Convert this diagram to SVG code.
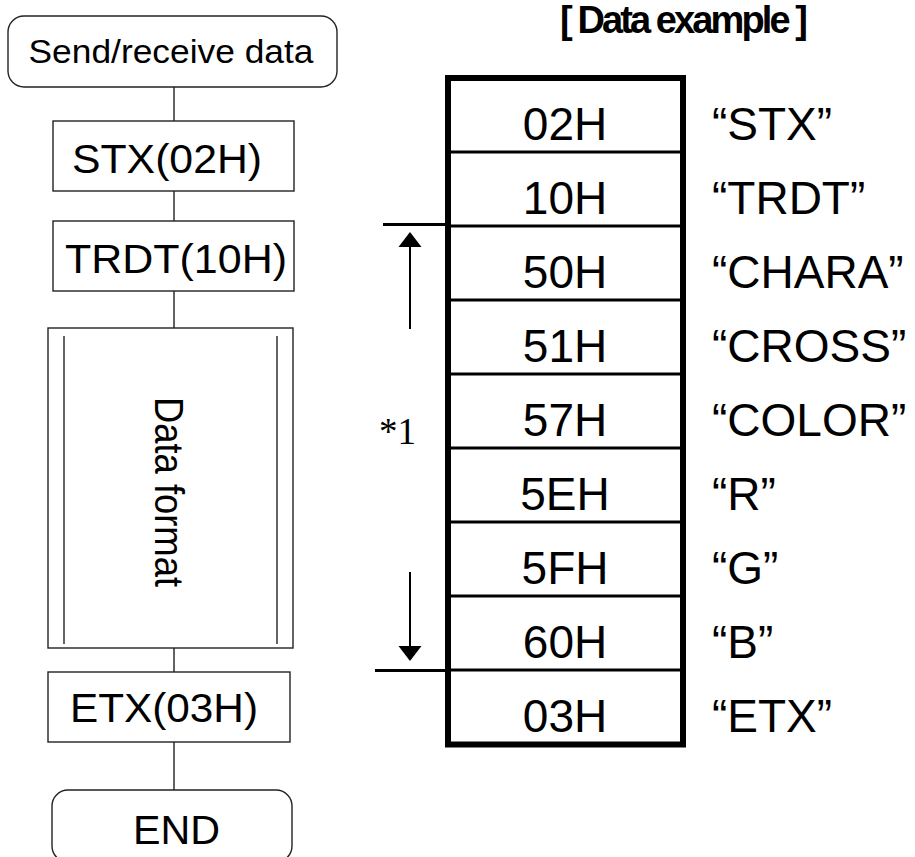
<svg xmlns="http://www.w3.org/2000/svg" width="915" height="857" viewBox="0 0 915 857">
<style>
.box{fill:#fff;stroke:#222;stroke-width:1.4}
.t{font-family:"Liberation Sans",Arial,sans-serif;fill:#000}
.flow{font-size:40px;text-anchor:middle}
.hex{font-size:46px;text-anchor:middle}
.lab{font-size:46px}
.conn{stroke:#222;stroke-width:1.4;fill:none}
.thick{stroke:#000;stroke-width:6;fill:none}
.div{stroke:#000;stroke-width:3}
.br{stroke:#000;stroke-width:3}
.ar{stroke:#000;stroke-width:2}
</style>
<rect width="915" height="857" fill="#fff"/>

<g id="connectors">
<line class="conn" x1="174" y1="87" x2="174" y2="121"/>
<line class="conn" x1="174" y1="191" x2="174" y2="221"/>
<line class="conn" x1="174" y1="291" x2="174" y2="328"/>
<line class="conn" x1="174" y1="648" x2="174" y2="672"/>
<line class="conn" x1="174" y1="742" x2="174" y2="790"/>
</g>

<g id="start">
<rect class="box" x="8" y="16" width="329" height="71" rx="16"/>
<text class="t" x="171" y="63" font-size="33" text-anchor="middle" textLength="285" lengthAdjust="spacingAndGlyphs">Send/receive data</text>
</g>
<g id="stx">
<rect class="box" x="53" y="121" width="241" height="70"/>
<text class="t flow" x="167" y="173" textLength="190" lengthAdjust="spacingAndGlyphs">STX(02H)</text>
</g>
<g id="trdt">
<rect class="box" x="53" y="221" width="241" height="70"/>
<text class="t flow" x="176" y="273" textLength="222" lengthAdjust="spacingAndGlyphs">TRDT(10H)</text>
</g>
<g id="dataformat">
<rect class="box" x="48" y="328" width="245" height="320"/>
<line class="conn" x1="64" y1="336" x2="64" y2="644"/>
<line class="conn" x1="277" y1="336" x2="277" y2="644"/>
<text class="t flow" transform="translate(155,492) rotate(90)" x="0" y="0" textLength="190" lengthAdjust="spacingAndGlyphs">Data format</text>
</g>
<g id="etx">
<rect class="box" x="48" y="672" width="242" height="70"/>
<text class="t flow" x="164" y="722" textLength="188" lengthAdjust="spacingAndGlyphs">ETX(03H)</text>
</g>
<g id="end">
<rect class="box" x="52" y="790" width="240" height="72" rx="16"/>
<text class="t flow" x="176.5" y="844" textLength="87" lengthAdjust="spacingAndGlyphs">END</text>
</g>

<g id="title">
<text class="t" x="684" y="33" font-size="38" font-weight="bold" text-anchor="middle" textLength="248" lengthAdjust="spacing">[ Data example ]</text>
</g>

<g id="table">
<line class="div" x1="448" y1="152" x2="683" y2="152"/>
<line class="div" x1="448" y1="226" x2="683" y2="226"/>
<line class="div" x1="448" y1="300" x2="683" y2="300"/>
<line class="div" x1="448" y1="374" x2="683" y2="374"/>
<line class="div" x1="448" y1="448" x2="683" y2="448"/>
<line class="div" x1="448" y1="522" x2="683" y2="522"/>
<line class="div" x1="448" y1="596" x2="683" y2="596"/>
<line class="div" x1="448" y1="670" x2="683" y2="670"/>
<rect class="thick" x="448" y="78" width="235" height="666.5"/>
<text class="t hex" x="565" y="140">02H</text>
<text class="t hex" x="565" y="213.5">10H</text>
<text class="t hex" x="565" y="287.5">50H</text>
<text class="t hex" x="565" y="361.5">51H</text>
<text class="t hex" x="565" y="435.5">57H</text>
<text class="t hex" x="565" y="509.5">5EH</text>
<text class="t hex" x="565" y="583.5">5FH</text>
<text class="t hex" x="565" y="657.5">60H</text>
<text class="t hex" x="565" y="731.5">03H</text>
<text class="t lab" x="712" y="140">“STX”</text>
<text class="t lab" x="712" y="213.5">“TRDT”</text>
<text class="t lab" x="712" y="287.5">“CHARA”</text>
<text class="t lab" x="712" y="361.5">“CROSS”</text>
<text class="t lab" x="712" y="435.5">“COLOR”</text>
<text class="t lab" x="712" y="509.5">“R”</text>
<text class="t lab" x="712" y="583.5">“G”</text>
<text class="t lab" x="712" y="657.5">“B”</text>
<text class="t lab" x="712" y="731.5">“ETX”</text>
</g>

<g id="range">
<line class="br" x1="383" y1="224.5" x2="446" y2="224.5"/>
<line class="br" x1="375" y1="670.5" x2="446" y2="670.5"/>
<line class="ar" x1="410" y1="329" x2="410" y2="246"/>
<path d="M410,232 L421.5,247 L398.5,247 z" fill="#000"/>
<line class="ar" x1="410" y1="572" x2="410" y2="647"/>
<path d="M410,661 L421.5,646 L398.5,646 z" fill="#000"/>
<text x="379" y="444" font-family="'Liberation Serif','Times New Roman',serif" font-size="37" fill="#000">*1</text>
</g>
</svg>
